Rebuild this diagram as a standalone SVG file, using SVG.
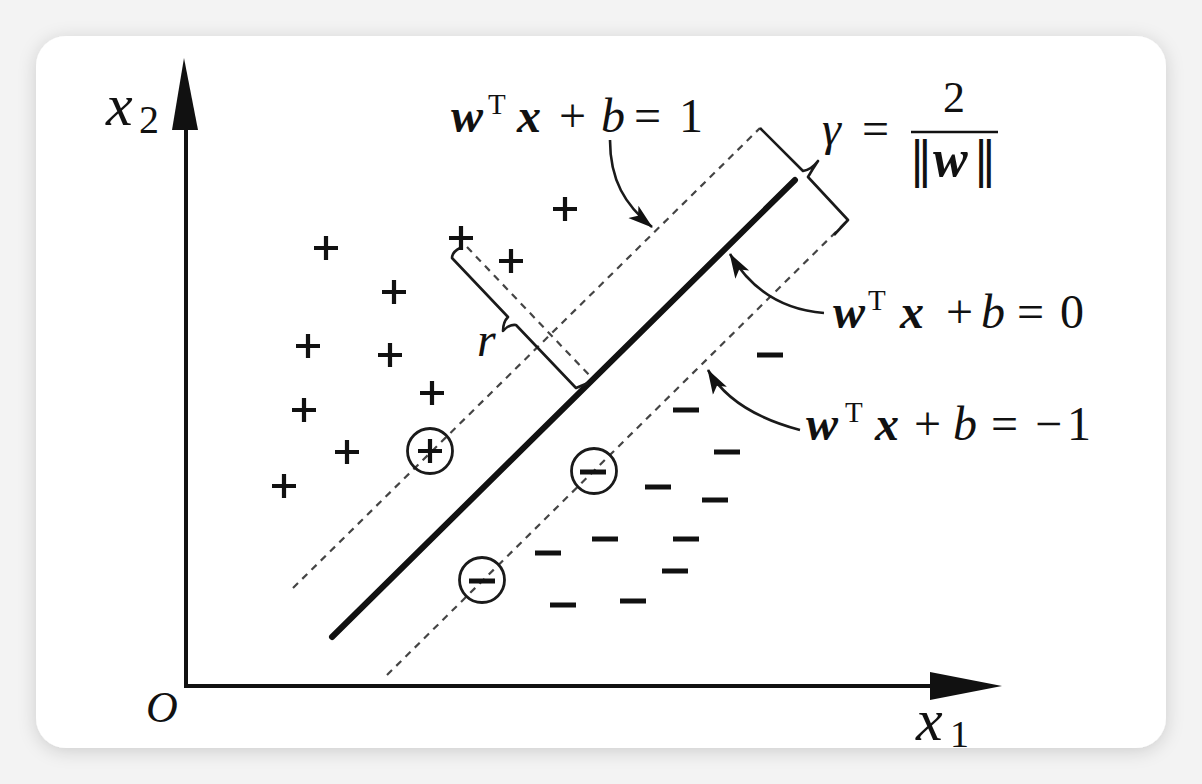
<svg xmlns="http://www.w3.org/2000/svg" width="1202" height="784" viewBox="0 0 1202 784">
  <style>
    .ax{stroke:#111;stroke-width:4;fill:none}
    .head{fill:#111}
    .sep{stroke:#111;stroke-width:6;stroke-linecap:round;fill:none}
    .dash{stroke:#444;stroke-width:2.2;stroke-dasharray:7 6;fill:none}
    .brk{stroke:#1a1a1a;stroke-width:2.6;fill:none;stroke-linejoin:round}
    .arr{stroke:#1a1a1a;stroke-width:2.6;fill:none}
    .pt{stroke:#111;stroke-width:4.2;fill:none}
    .mn{stroke:#111;stroke-width:5;fill:none}
    .sv{stroke:#1a1a1a;stroke-width:2.8;fill:none}
    .m{font-family:"Liberation Serif","DejaVu Serif",serif;font-size:48px;fill:#111}
    .v{font-weight:bold;font-style:italic}
    .i{font-style:italic}
    .sup{font-size:29px}
  </style>
  <defs>
    <filter id="sh" x="-10%" y="-10%" width="120%" height="120%">
      <feDropShadow dx="0" dy="3" stdDeviation="9" flood-color="#000" flood-opacity="0.16"/>
    </filter>
    <marker id="ah" markerUnits="userSpaceOnUse" markerWidth="26" markerHeight="18" viewBox="0 0 26 18" refX="24" refY="9" orient="auto">
      <path d="M0,1 L25,9 L0,17 L6,9 z" fill="#111"/>
    </marker>
    <path id="plus" d="M-12 0H12M0-12V12" class="pt"/>
    <path id="minus" d="M-13 0H13" class="mn"/>
  </defs>

  <rect width="1202" height="784" fill="#f3f3f3"/>
  <rect id="card" x="36" y="36" width="1130" height="712" rx="30" fill="#ffffff" filter="url(#sh)"/>

  <g id="axes">
    <path class="ax" d="M186 128V686H932"/>
    <polygon class="head" points="184,58 198,130 172,130"/>
    <polygon class="head" points="1002,686 930,672 930,700"/>
    <text class="m i" x="106" y="125" style="font-size:60px">x<tspan style="font-size:40px;font-style:normal" x="139" y="133">2</tspan></text>
    <text class="m i" x="916" y="740" style="font-size:60px">x<tspan style="font-size:38px;font-style:normal" x="950" y="747">1</tspan></text>
    <text class="m i" x="146" y="722" style="font-size:44px">O</text>
  </g>

  <g id="connectors">
    <line id="hyperplane" class="sep" x1="332" y1="637" x2="795" y2="180"/>
    <line id="margin-plus" class="dash" x1="293" y1="588" x2="760" y2="128"/>
    <line id="margin-minus" class="dash" x1="387" y1="675" x2="848" y2="220"/>
    <line id="r-perp" class="dash" x1="467" y1="247" x2="591" y2="377"/>
    <path id="gamma-bracket" class="brk" d="M760,128 L803,171 Q811,170 818,161 Q812,170 808,177 L848,220 L834,235"/>
    <path id="r-bracket" class="brk" d="M460,248 Q452,252 452,258 L508,317 Q503,322 503,331 Q509,324 516,325 L576,388 L588,383"/>
    <path id="arrow-1" class="arr" d="M610,140 C610,180 625,205 652,227" marker-end="url(#ah)"/>
    <path id="arrow-0" class="arr" d="M824,313 Q762,308 730,254" marker-end="url(#ah)"/>
    <path id="arrow-m1" class="arr" d="M800,430 Q732,412 708,370" marker-end="url(#ah)"/>
  </g>

  <g id="positives">
    <use href="#plus" x="326" y="248"/>
    <use href="#plus" x="394" y="292"/>
    <use href="#plus" x="461" y="238"/>
    <use href="#plus" x="511" y="261"/>
    <use href="#plus" x="565" y="209"/>
    <use href="#plus" x="308" y="346"/>
    <use href="#plus" x="390" y="355"/>
    <use href="#plus" x="432" y="393"/>
    <use href="#plus" x="304" y="410"/>
    <use href="#plus" x="347" y="452"/>
    <use href="#plus" x="284" y="486"/>
    <g id="sv-plus">
      <circle class="sv" cx="430" cy="451" r="22.5"/>
      <use href="#plus" x="430" y="451"/>
    </g>
  </g>

  <g id="negatives">
    <use href="#minus" x="770" y="355"/>
    <use href="#minus" x="686" y="410"/>
    <use href="#minus" x="727" y="452"/>
    <use href="#minus" x="658" y="487"/>
    <use href="#minus" x="715" y="500"/>
    <use href="#minus" x="605" y="539"/>
    <use href="#minus" x="686" y="539"/>
    <use href="#minus" x="548" y="553"/>
    <use href="#minus" x="675" y="571"/>
    <use href="#minus" x="633" y="601"/>
    <use href="#minus" x="563" y="605"/>
    <g id="sv-minus-1">
      <circle class="sv" cx="594" cy="471" r="22.5"/>
      <use href="#minus" x="593" y="472"/>
    </g>
    <g id="sv-minus-2">
      <circle class="sv" cx="482" cy="580" r="22.5"/>
      <use href="#minus" x="482" y="581"/>
    </g>
  </g>

  <g id="labels">
    <text id="lbl-plus1" class="m" y="132"><tspan class="v" x="451">w</tspan><tspan class="sup" x="488" y="114">T</tspan><tspan class="v" x="517" y="132">x</tspan><tspan x="559">+</tspan><tspan class="i" x="601">b</tspan><tspan x="634">=</tspan><tspan x="679">1</tspan></text>
    <text id="lbl-zero" class="m" y="328"><tspan class="v" x="833">w</tspan><tspan class="sup" x="868" y="310">T</tspan><tspan class="v" x="900" y="328">x</tspan><tspan x="946">+</tspan><tspan class="i" x="981">b</tspan><tspan x="1017">=</tspan><tspan x="1060">0</tspan></text>
    <text id="lbl-minus1" class="m" y="440"><tspan class="v" x="806">w</tspan><tspan class="sup" x="845" y="422">T</tspan><tspan class="v" x="875" y="440">x</tspan><tspan x="914">+</tspan><tspan class="i" x="953">b</tspan><tspan x="991">=</tspan><tspan x="1035">−</tspan><tspan x="1067">1</tspan></text>
    <text id="lbl-r" class="m i" x="477" y="356">r</text>
    <g id="lbl-gamma">
      <text class="m i" x="822" y="145">γ</text>
      <text class="m" x="862" y="145">=</text>
      <text class="m" x="943" y="112" style="font-size:44px">2</text>
      <line x1="911" y1="132" x2="998" y2="132" stroke="#111" stroke-width="2.4"/>
      <text class="m" y="177" style="font-family:'DejaVu Serif',serif;font-size:48px"><tspan x="909">‖</tspan><tspan x="973">‖</tspan></text>
      <text class="m v" x="933" y="176" style="font-size:52px">w</text>
    </g>
  </g>
</svg>
